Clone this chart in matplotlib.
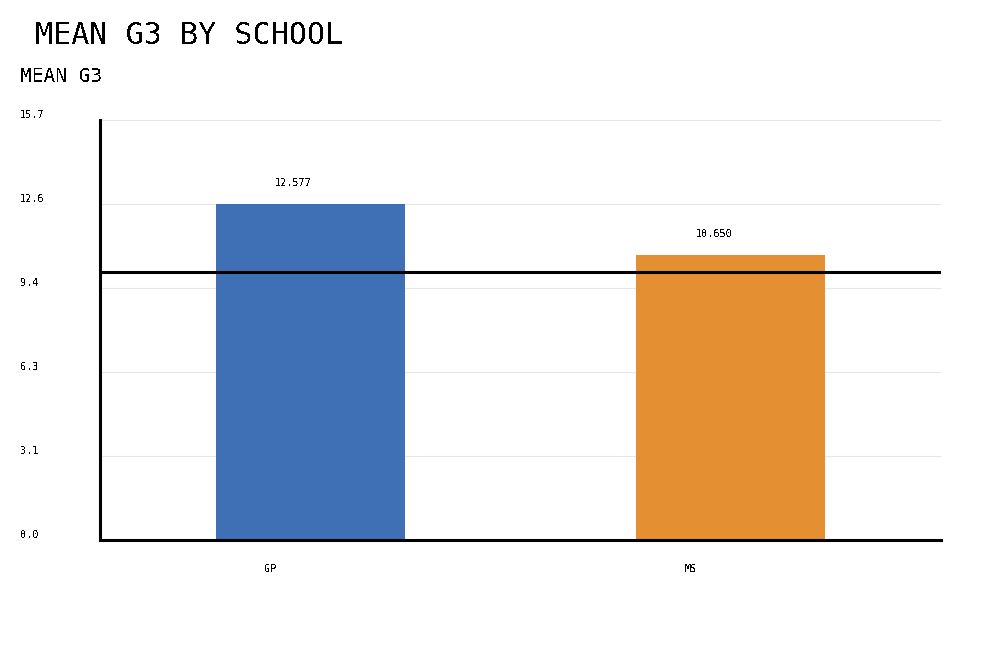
import numpy as np
import matplotlib
matplotlib.use("Agg")
import matplotlib.pyplot as plt
import matplotlib.transforms as mtransforms

# data
schools = ["GP", "MS"]
mean_g3 = [12.577, 10.650]
bar_colors = ["#3f6fb5", "#e38f32"]
ref_line = 10.0
y_max = 15.7

plt.rcParams["font.family"] = ["DejaVu Sans Mono"]
plt.rcParams["text.antialiased"] = False

fig = plt.figure(figsize=(10, 6.5), dpi=100)
ax = fig.add_axes([0.100, 0.1692, 0.841, 0.6462])

x = np.arange(len(schools))
ax.bar(x, mean_g3, width=0.45, color=bar_colors, zorder=2)

# horizontal reference line
ax.axhline(ref_line, color="black", linewidth=2.2, zorder=3)

ax.set_xlim(-0.5, len(schools) - 0.5)
ax.set_ylim(0, y_max)

# y ticks: 5 equal steps up to the max
yticks = np.linspace(0, y_max, 6)
ax.set_yticks(yticks)
ax.set_yticklabels([])
ax.tick_params(axis="both", length=0)
ax.set_xticks([])
for yt in yticks[1:]:
    ax.axhline(yt, color="#e6e6e6", linewidth=0.8, zorder=1)

# y tick labels at the left edge of the figure
ytrans = mtransforms.blended_transform_factory(fig.transFigure, ax.transData)
for yt in yticks:
    ax.text(0.020, yt, f"{yt:.1f}", transform=ytrans, fontsize=7.3,
            ha="left", va="bottom", clip_on=False)

# category labels below the axis
xtrans = mtransforms.blended_transform_factory(ax.transData, ax.transAxes)
for i, name in enumerate(schools):
    ax.text(i - 0.095, -0.068, name, transform=xtrans, fontsize=7.3,
            ha="center", va="center", clip_on=False)

# value labels above bars
for i, v in enumerate(mean_g3):
    ax.annotate(f"{v:.3f}", (i - 0.04, v), xytext=(0, 15),
                textcoords="offset points", fontsize=7.3,
                ha="center", va="center")

for side in ["top", "right"]:
    ax.spines[side].set_visible(False)
for side in ["left", "bottom"]:
    ax.spines[side].set_linewidth(2.2)
    ax.spines[side].set_color("black")

fig.text(0.035, 0.945, "MEAN G3 BY SCHOOL", fontsize=21.6, ha="left", va="center")
fig.text(0.020, 0.883, "MEAN G3", fontsize=14, ha="left", va="center")

fig.savefig("out.png", dpi=100)
